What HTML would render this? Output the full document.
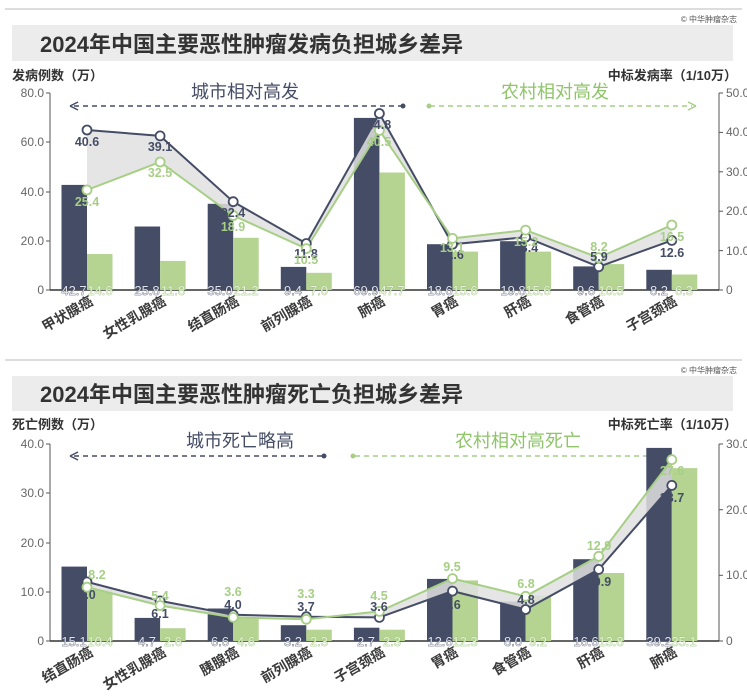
<!DOCTYPE html>
<html><head><meta charset="utf-8"><style>
html,body{margin:0;padding:0;background:#fff;}
svg{display:block;font-family:"Liberation Sans","Noto Sans CJK SC",sans-serif;}
.t{font-size:12px;fill:#666;}
.ax{font-size:13px;font-weight:bold;fill:#333;}
.cat{font-size:14px;font-weight:bold;fill:#3a3a3a;}
.dl{font-size:12.5px;font-weight:bold;fill:#454d66;text-anchor:middle;}
.gl{font-size:12.5px;font-weight:bold;fill:#a6cf85;text-anchor:middle;}
.bd{font-size:13px;fill:#e2e5ef;text-anchor:middle;stroke:#2f3547;stroke-width:0.6px;paint-order:stroke;}
.bg{font-size:13px;fill:#e6f3d8;text-anchor:middle;stroke:#8fb76e;stroke-width:0.6px;paint-order:stroke;}
</style></head><body>
<svg width="747" height="698" viewBox="0 0 747 698" xmlns="http://www.w3.org/2000/svg">
<!-- TOP -->
<line x1="5" y1="9" x2="742" y2="9" stroke="#bbb" stroke-width="1"/>
<text x="737" y="22" font-size="8" fill="#555" text-anchor="end">© 中华肿瘤杂志</text>
<rect x="12" y="25" width="721" height="36" fill="#ececec"/>
<text x="40" y="52" font-size="22" font-weight="bold" fill="#333">2024年中国主要恶性肿瘤发病负担城乡差异</text>
<text x="12" y="80" class="ax">发病例数（万）</text>
<text x="737" y="80" class="ax" text-anchor="end">中标发病率（1/10万）</text>
<line x1="50" y1="93" x2="50" y2="290" stroke="#555"/>
<line x1="719" y1="93" x2="719" y2="290" stroke="#555"/>
<line x1="50" y1="290" x2="719" y2="290" stroke="#333" stroke-width="1.5"/>
<g stroke="#555"><line x1="46" y1="93" x2="50" y2="93"/><line x1="46" y1="142" x2="50" y2="142"/><line x1="46" y1="192" x2="50" y2="192"/><line x1="46" y1="241" x2="50" y2="241"/><line x1="46" y1="290" x2="50" y2="290"/>
<line x1="719" y1="93" x2="723" y2="93"/><line x1="719" y1="132.4" x2="723" y2="132.4"/><line x1="719" y1="171.8" x2="723" y2="171.8"/><line x1="719" y1="211.2" x2="723" y2="211.2"/><line x1="719" y1="250.6" x2="723" y2="250.6"/><line x1="719" y1="290" x2="723" y2="290"/></g>
<g class="t" text-anchor="end"><text x="44" y="97">80.0</text><text x="44" y="146">60.0</text><text x="44" y="196">40.0</text><text x="44" y="245">20.0</text><text x="44" y="294">0</text></g>
<g class="t"><text x="726" y="97">50.0</text><text x="726" y="136">40.0</text><text x="726" y="176">30.0</text><text x="726" y="215">20.0</text><text x="726" y="255">10.0</text><text x="726" y="294">0</text></g>
<text x="245" y="98" font-size="18" fill="#454d66" text-anchor="middle">城市相对高发</text>
<line x1="74" y1="106" x2="402" y2="106" stroke="#454d66" stroke-width="1.5" stroke-dasharray="5,4"/>
<path d="M70 106 L78 102 M70 106 L78 110" stroke="#454d66" stroke-width="1.5" fill="none"/>
<circle cx="403" cy="106" r="2.5" fill="#454d66"/>
<text x="555" y="98" font-size="18" fill="#8fc46a" text-anchor="middle">农村相对高发</text>
<line x1="430" y1="106" x2="692" y2="106" stroke="#a6cf85" stroke-width="1.5" stroke-dasharray="5,4"/>
<circle cx="429" cy="106" r="2.5" fill="#a6cf85"/>
<path d="M696 106 L688 102 M696 106 L688 110" stroke="#a6cf85" stroke-width="1.5" fill="none"/>
<g fill="#454d66">
<rect x="61.5" y="184.9" width="25.5" height="105.1"/><rect x="134.6" y="226.5" width="25.5" height="63.5"/><rect x="207.7" y="203.8" width="25.5" height="86.2"/><rect x="280.8" y="266.9" width="25.5" height="23.1"/><rect x="353.9" y="117.9" width="25.5" height="172.1"/><rect x="427" y="244.2" width="25.5" height="45.8"/><rect x="500.1" y="241.2" width="25.5" height="48.8"/><rect x="573.2" y="266.4" width="25.5" height="23.6"/><rect x="646.3" y="269.8" width="25.5" height="20.2"/></g>
<g fill="#b5d492">
<rect x="87" y="254" width="25.5" height="36"/><rect x="160.1" y="260.9" width="25.5" height="29.1"/><rect x="233.2" y="237.8" width="25.5" height="52.2"/><rect x="306.3" y="272.8" width="25.5" height="17.2"/><rect x="379.4" y="172.5" width="25.5" height="117.5"/><rect x="452.5" y="251.6" width="25.5" height="38.4"/><rect x="525.6" y="251.6" width="25.5" height="38.4"/><rect x="598.7" y="264.1" width="25.5" height="25.9"/><rect x="671.8" y="274.5" width="25.5" height="15.5"/></g>
<polygon points="87,130 160.1,135.9 233.2,201.7 306.3,243.5 379.4,113.5 452.5,244.3 525.6,237.2 598.7,266.8 671.8,240.4 671.8,225 598.7,257.7 525.6,230.1 452.5,238.4 379.4,130.4 306.3,248.6 233.2,215.5 160.1,162 87,190" fill="#e0e0e0" opacity="0.85"/>
<polyline points="87,130 160.1,135.9 233.2,201.7 306.3,243.5 379.4,113.5 452.5,244.3 525.6,237.2 598.7,266.8 671.8,240.4" fill="none" stroke="#454d66" stroke-width="2"/>
<polyline points="87,190 160.1,162 233.2,215.5 306.3,248.6 379.4,130.4 452.5,238.4 525.6,230.1 598.7,257.7 671.8,225" fill="none" stroke="#a6cf85" stroke-width="2"/>
<g fill="#fff" stroke="#454d66" stroke-width="1.8"><circle cx="87" cy="130" r="4.5"/><circle cx="160.1" cy="135.9" r="4.5"/><circle cx="233.2" cy="201.7" r="4.5"/><circle cx="306.3" cy="243.5" r="4.5"/><circle cx="379.4" cy="113.5" r="4.5"/><circle cx="452.5" cy="244.3" r="4.5"/><circle cx="525.6" cy="237.2" r="4.5"/><circle cx="598.7" cy="266.8" r="4.5"/><circle cx="671.8" cy="240.4" r="4.5"/></g>
<g fill="#fff" stroke="#a6cf85" stroke-width="1.8"><circle cx="87" cy="190" r="4.5"/><circle cx="160.1" cy="162" r="4.5"/><circle cx="233.2" cy="215.5" r="4.5"/><circle cx="306.3" cy="248.6" r="4.5"/><circle cx="379.4" cy="130.4" r="4.5"/><circle cx="452.5" cy="238.4" r="4.5"/><circle cx="525.6" cy="230.1" r="4.5"/><circle cx="598.7" cy="257.7" r="4.5"/><circle cx="671.8" cy="225" r="4.5"/></g>
<g class="dl"><text x="87" y="146">40.6</text><text x="160" y="151">39.1</text><text x="233" y="217">22.4</text><text x="306" y="258">11.8</text><text x="379" y="129">44.8</text><text x="452" y="259">11.6</text><text x="526" y="252">13.4</text><text x="599" y="261">5.9</text><text x="672" y="257">12.6</text></g>
<g class="gl"><text x="87" y="206">25.4</text><text x="160" y="177">32.5</text><text x="233" y="231">18.9</text><text x="306" y="264">10.5</text><text x="379" y="146">40.5</text><text x="452" y="252">13.1</text><text x="526" y="246">15.2</text><text x="599" y="251">8.2</text><text x="672" y="241">16.5</text></g>
<g class="bd"><text x="74" y="295">42.7</text><text x="147" y="295">25.8</text><text x="220" y="295">35.0</text><text x="293" y="295">9.4</text><text x="366" y="295">69.9</text><text x="440" y="295">18.6</text><text x="513" y="295">19.8</text><text x="586" y="295">9.6</text><text x="659" y="295">8.2</text></g>
<g class="bg"><text x="100" y="295">14.6</text><text x="173" y="295">11.8</text><text x="246" y="295">21.2</text><text x="319" y="295">7.0</text><text x="392" y="295">47.7</text><text x="465" y="295">15.6</text><text x="538" y="295">15.6</text><text x="611" y="295">10.5</text><text x="684" y="295">6.3</text></g>
<g class="cat" text-anchor="end">
<text transform="translate(94,304) rotate(-30)">甲状腺癌</text><text transform="translate(167,304) rotate(-30)">女性乳腺癌</text><text transform="translate(240,304) rotate(-30)">结直肠癌</text><text transform="translate(313,304) rotate(-30)">前列腺癌</text><text transform="translate(386,304) rotate(-30)">肺癌</text><text transform="translate(459,304) rotate(-30)">胃癌</text><text transform="translate(532,304) rotate(-30)">肝癌</text><text transform="translate(605,304) rotate(-30)">食管癌</text><text transform="translate(678,304) rotate(-30)">子宫颈癌</text></g>

<!-- BOTTOM -->
<line x1="5" y1="360" x2="742" y2="360" stroke="#bbb" stroke-width="1"/>
<text x="737" y="373" font-size="8" fill="#555" text-anchor="end">© 中华肿瘤杂志</text>
<rect x="12" y="376" width="721" height="35" fill="#ececec"/>
<text x="40" y="402" font-size="22" font-weight="bold" fill="#333">2024年中国主要恶性肿瘤死亡负担城乡差异</text>
<text x="12" y="429" class="ax">死亡例数（万）</text>
<text x="737" y="429" class="ax" text-anchor="end">中标死亡率（1/10万）</text>
<line x1="50" y1="444" x2="50" y2="641" stroke="#555"/>
<line x1="719" y1="444" x2="719" y2="641" stroke="#555"/>
<line x1="50" y1="641" x2="719" y2="641" stroke="#333" stroke-width="1.5"/>
<g stroke="#555"><line x1="46" y1="444" x2="50" y2="444"/><line x1="46" y1="493" x2="50" y2="493"/><line x1="46" y1="543" x2="50" y2="543"/><line x1="46" y1="592" x2="50" y2="592"/><line x1="46" y1="641" x2="50" y2="641"/>
<line x1="719" y1="444" x2="723" y2="444"/><line x1="719" y1="509.7" x2="723" y2="509.7"/><line x1="719" y1="575.3" x2="723" y2="575.3"/><line x1="719" y1="641" x2="723" y2="641"/></g>
<g class="t" text-anchor="end"><text x="44" y="448">40.0</text><text x="44" y="497">30.0</text><text x="44" y="547">20.0</text><text x="44" y="596">10.0</text><text x="44" y="645">0</text></g>
<g class="t"><text x="726" y="448">30.0</text><text x="726" y="514">20.0</text><text x="726" y="579">10.0</text><text x="726" y="645">0</text></g>
<text x="240" y="447" font-size="18" fill="#454d66" text-anchor="middle">城市死亡略高</text>
<line x1="74" y1="456" x2="322" y2="456" stroke="#454d66" stroke-width="1.5" stroke-dasharray="5,4"/>
<path d="M70 456 L78 452 M70 456 L78 460" stroke="#454d66" stroke-width="1.5" fill="none"/>
<circle cx="324" cy="456" r="2.5" fill="#454d66"/>
<text x="518" y="447" font-size="18" fill="#8fc46a" text-anchor="middle">农村相对高死亡</text>
<line x1="355" y1="456" x2="666" y2="456" stroke="#a6cf85" stroke-width="1.5" stroke-dasharray="5,4"/>
<circle cx="353" cy="456" r="2.5" fill="#a6cf85"/>
<path d="M670 456 L662 452 M670 456 L662 460" stroke="#a6cf85" stroke-width="1.5" fill="none"/>
<g fill="#454d66">
<rect x="61.5" y="566.6" width="25.5" height="74.4"/><rect x="134.6" y="617.9" width="25.5" height="23.1"/><rect x="207.7" y="608.5" width="25.5" height="32.5"/><rect x="280.8" y="625.2" width="25.5" height="15.8"/><rect x="353.9" y="627.7" width="25.5" height="13.3"/><rect x="427" y="578.9" width="25.5" height="62.1"/><rect x="500.1" y="601.6" width="25.5" height="39.4"/><rect x="573.2" y="559.2" width="25.5" height="81.8"/><rect x="646.3" y="447.9" width="25.5" height="193.1"/></g>
<g fill="#b5d492">
<rect x="87" y="589.8" width="25.5" height="51.2"/><rect x="160.1" y="628.2" width="25.5" height="12.8"/><rect x="233.2" y="618.3" width="25.5" height="22.7"/><rect x="306.3" y="629.7" width="25.5" height="11.3"/><rect x="379.4" y="629.7" width="25.5" height="11.3"/><rect x="452.5" y="580.4" width="25.5" height="60.6"/><rect x="525.6" y="595.7" width="25.5" height="45.3"/><rect x="598.7" y="573" width="25.5" height="68"/><rect x="671.8" y="468.1" width="25.5" height="172.9"/></g>
<polygon points="87,581.9 160.1,600.9 233.2,614.7 306.3,616.7 379.4,617.4 452.5,591.1 525.6,609.5 598.7,569.4 671.8,485.4 671.8,459.7 598.7,556.3 525.6,596.3 452.5,578.6 379.4,611.4 306.3,619.3 233.2,617.4 160.1,605.5 87,587.2" fill="#e0e0e0" opacity="0.85"/>
<polyline points="87,581.9 160.1,600.9 233.2,614.7 306.3,616.7 379.4,617.4 452.5,591.1 525.6,609.5 598.7,569.4 671.8,485.4" fill="none" stroke="#454d66" stroke-width="2"/>
<polyline points="87,587.2 160.1,605.5 233.2,617.4 306.3,619.3 379.4,611.4 452.5,578.6 525.6,596.3 598.7,556.3 671.8,459.7" fill="none" stroke="#a6cf85" stroke-width="2"/>
<g fill="#fff" stroke="#454d66" stroke-width="1.8"><circle cx="87" cy="581.9" r="4.5"/><circle cx="160.1" cy="600.9" r="4.5"/><circle cx="233.2" cy="614.7" r="4.5"/><circle cx="306.3" cy="616.7" r="4.5"/><circle cx="379.4" cy="617.4" r="4.5"/><circle cx="452.5" cy="591.1" r="4.5"/><circle cx="525.6" cy="609.5" r="4.5"/><circle cx="598.7" cy="569.4" r="4.5"/><circle cx="671.8" cy="485.4" r="4.5"/></g>
<g fill="#fff" stroke="#a6cf85" stroke-width="1.8"><circle cx="87" cy="587.2" r="4.5"/><circle cx="160.1" cy="605.5" r="4.5"/><circle cx="233.2" cy="617.4" r="4.5"/><circle cx="306.3" cy="619.3" r="4.5"/><circle cx="379.4" cy="611.4" r="4.5"/><circle cx="452.5" cy="578.6" r="4.5"/><circle cx="525.6" cy="596.3" r="4.5"/><circle cx="598.7" cy="556.3" r="4.5"/><circle cx="671.8" cy="459.7" r="4.5"/></g>
<g class="dl"><text x="87" y="599">9.0</text><text x="160" y="618">6.1</text><text x="233" y="609">4.0</text><text x="306" y="611">3.7</text><text x="379" y="611">3.6</text><text x="452" y="609">7.6</text><text x="526" y="604">4.8</text><text x="599" y="586">10.9</text><text x="672" y="502">23.7</text></g>
<g class="gl"><text x="97" y="579">8.2</text><text x="160" y="600">5.4</text><text x="233" y="596">3.6</text><text x="306" y="598">3.3</text><text x="379" y="600">4.5</text><text x="452" y="571">9.5</text><text x="526" y="588">6.8</text><text x="599" y="550">12.9</text><text x="672" y="475">27.6</text></g>
<g class="bd"><text x="74" y="646">15.1</text><text x="147" y="646">4.7</text><text x="220" y="646">6.6</text><text x="293" y="646">3.2</text><text x="366" y="646">2.7</text><text x="440" y="646">12.6</text><text x="513" y="646">8.0</text><text x="586" y="646">16.6</text><text x="659" y="646">39.2</text></g>
<g class="bg"><text x="100" y="646">10.4</text><text x="173" y="646">2.6</text><text x="246" y="646">4.6</text><text x="319" y="646">2.3</text><text x="392" y="646">2.3</text><text x="465" y="646">12.3</text><text x="538" y="646">9.2</text><text x="611" y="646">13.8</text><text x="684" y="646">35.1</text></g>
<g class="cat" text-anchor="end">
<text transform="translate(94,655) rotate(-30)">结直肠癌</text><text transform="translate(167,655) rotate(-30)">女性乳腺癌</text><text transform="translate(240,655) rotate(-30)">胰腺癌</text><text transform="translate(313,655) rotate(-30)">前列腺癌</text><text transform="translate(386,655) rotate(-30)">子宫颈癌</text><text transform="translate(459,655) rotate(-30)">胃癌</text><text transform="translate(532,655) rotate(-30)">食管癌</text><text transform="translate(605,655) rotate(-30)">肝癌</text><text transform="translate(678,655) rotate(-30)">肺癌</text></g>
</svg>
</body></html>
